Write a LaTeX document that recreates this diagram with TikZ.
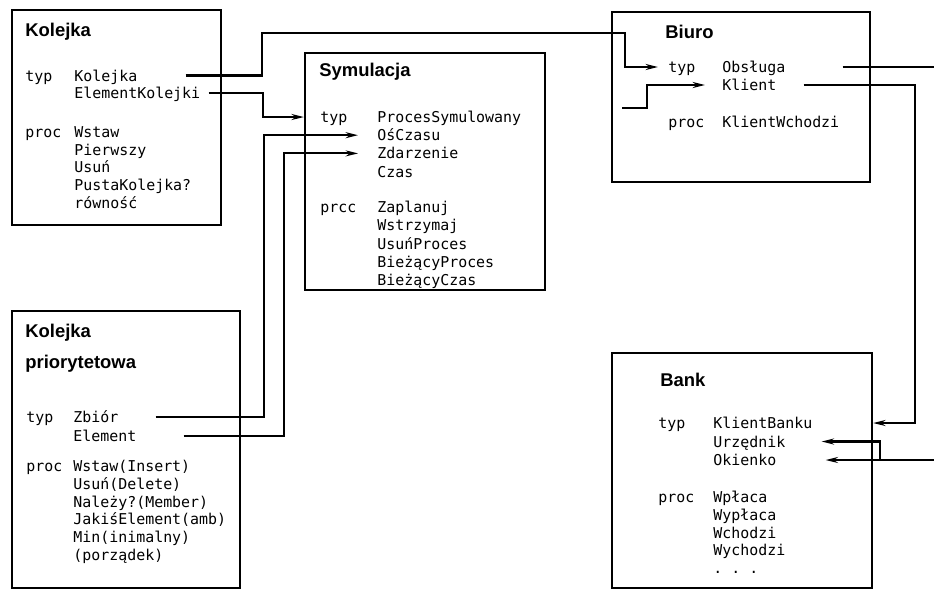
\documentclass[tikz,border=0pt]{standalone}
\usepackage{fontspec}
\setmainfont{Liberation Sans}
\setmonofont{DejaVu Sans Mono}
\usetikzlibrary{arrows.meta,calc,fit}

\begin{document}
\begin{tikzpicture}[x=0.02cm, y=-0.02cm, >={Stealth[length=7pt,width=3.4pt]},
    box/.style={draw, line width=1.3pt, inner sep=0pt},
    title/.style={anchor=west, inner sep=0pt, font=\fontsize{10.5}{12}\selectfont\bfseries},
    item/.style={anchor=west, inner sep=0pt, font=\fontsize{8.5}{10}\selectfont\ttfamily,
      text height=1.5ex, text depth=.3ex},
    conn/.style={line width=1.2pt}]
  \useasboundingbox (0,0) rectangle (934,589);

  % Kolejka
  \node[box, fit={(12,10) (221,225)}] (kol) {};
  \node[title] (kolName) at (25,32) {Kolejka};
  \node[item] (kolKw1) at (25,76) {typ};
  \node[item] (kolKw2) at (25,132) {proc};
  \foreach \t [count=\i] in {Kolejka, ElementKolejki}
    \node[item] (kolT\i) at (74,{58+17.5*\i}) {\t};
  \foreach \t [count=\i] in {Wstaw, Pierwszy, Usuń, PustaKolejka?, równość}
    \node[item] (kolP\i) at (74,{114+17.8*\i}) {\t};

  % Kolejka priorytetowa
  \node[box, fit={(12,311) (240,588)}] (kp) {};
  \node[title] (kpName1) at (25,333) {Kolejka};
  \node[title] (kpName2) at (25,364) {priorytetowa};
  \node[item] (kpKw1) at (26,417) {typ};
  \node[item] (kpKw2) at (26,466) {proc};
  \foreach \t [count=\i] in {Zbiór, Element}
    \node[item] (kpT\i) at (73,{398+19*\i}) {\t};
  \foreach \t [count=\i] in {Wstaw(Insert), Usuń(Delete), Należy?(Member),
      JakiśElement(amb), Min(inimalny), {(porządek)}}
    \node[item] (kpP\i) at (73,{448.2+17.8*\i}) {\t};

  % Symulacja
  \node[box, fit={(305,53) (545,290)}] (sym) {};
  \node[title] (symName) at (319,72) {Symulacja};
  \node[item] (symKw1) at (320,117) {typ};
  \node[item] (symKw2) at (320,207) {prcc};
  \foreach \t [count=\i] in {ProcesSymulowany, OśCzasu, Zdarzenie, Czas}
    \node[item] (symT\i) at (377,{98.8+18.2*\i}) {\t};
  \foreach \t [count=\i] in {Zaplanuj, Wstrzymaj, UsuńProces, BieżącyProces, BieżącyCzas}
    \node[item] (symP\i) at (377,{188.7+18.3*\i}) {\t};

  % Biuro
  \node[box, fit={(612,12) (870,182)}] (bio) {};
  \node[title] (bioName) at (665,32) {Biuro};
  \node[item] (bioKw1) at (668,67) {typ};
  \node[item] (bioKw2) at (668,122) {proc};
  \node[item] (bioT1) at (722,67) {Obsługa};
  \node[item] (bioT2) at (722,85) {Klient};
  \node[item] (bioP1) at (722,122) {KlientWchodzi};

  % Bank
  \node[box, fit={(612,353) (872,588)}] (bnk) {};
  \node[title] (bnkName) at (660,380) {Bank};
  \node[item] (bnkKw1) at (658,423) {typ};
  \node[item] (bnkKw2) at (658,497) {proc};
  \foreach \t [count=\i] in {KlientBanku, Urzędnik, Okienko}
    \node[item] (bnkT\i) at (713,{404.5+18.5*\i}) {\t};
  \foreach \t [count=\i] in {Wpłaca, Wypłaca, Wchodzi, Wychodzi}
    \node[item] (bnkP\i) at (713,{479.2+17.8*\i}) {\t};
  \node[item] (bnkP5) at (713,568) {. . .};

  % connectors
  \draw[conn,->] ($(kolT1.east)+(48,0)$) -| (262,33) -- (625,33) |- ($(bioKw1.west)+(-10,0)$);
  \draw[conn,->] ($(kolT2.east)+(8,0)$) -- ++(54,0) |- (sym.west |- symKw1);
  \draw[conn,->] ($(kpT1.east)+(37,0)$) -- ++(108,0) |- ($(symT2.west)+(-19,0)$);
  \draw[conn,->] ($(kpT2.east)+(47,0)$) -- ++(100,0) |- ($(symT3.west)+(-19,0)$);
  \coordinate (bioIn) at (622,108);
  \draw[conn,->] (bioIn) -- ++(25,0) |- ($(bioT2.west)+(-17,0)$);
  \draw[conn] ($(bioT1.east)+(57,0)$) -- ++(92,0);
  \draw[conn,->] ($(bioT2.east)+(27,0)$) -- ++(111,0) |- (bnk.east |- bnkT1);
  \draw[conn,->] ($(bnkT3.east)+(158,0)$) -- ($(bnkT3.east)+(49,0)$);
  \draw[conn,->] ($(bnkT3.east)+(103,0)$) |- ($(bnkT2.east)+(36,0)$);
\end{tikzpicture}
\end{document}
